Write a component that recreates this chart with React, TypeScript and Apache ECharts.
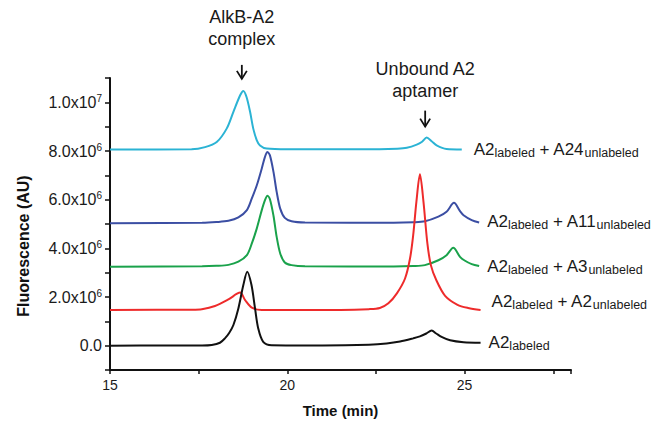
import React, { useEffect, useRef } from "react";
import * as echarts from "echarts";

// ---- Data (time in min, fluorescence in AU) ----
const traceNames = [
  "A2 labeled + A24 unlabeled",
  "A2 labeled + A11 unlabeled",
  "A2 labeled + A3 unlabeled",
  "A2 labeled + A2 unlabeled",
  "A2 labeled",
];

const traceColors = ["#2bb3d4", "#3b4ea3", "#1aa24b", "#ee2b2b", "#111111"];

const traceA24: [number, number][] = [
  [15, 8.06e6], [17.3, 8.07e6], [17.68, 8.16e6], [18.01, 8.37e6], [18.29, 8.92e6],
  [18.48, 9.61e6], [18.67, 10.29e6], [18.76, 10.47e6], [18.85, 10.22e6], [18.95, 9.61e6],
  [19.04, 8.92e6], [19.14, 8.44e6], [19.23, 8.23e6], [19.42, 8.1e6], [20.0, 8.07e6],
  [22.6, 8.07e6], [23.1, 8.09e6], [23.37, 8.13e6], [23.65, 8.26e6], [23.8, 8.38e6],
  [23.93, 8.55e6], [24.07, 8.4e6], [24.21, 8.23e6], [24.49, 8.08e6], [24.92, 8.06e6],
];

const traceA11: [number, number][] = [
  [15, 5.03e6], [17.6, 5.05e6], [18.0, 5.08e6], [18.34, 5.13e6], [18.62, 5.27e6],
  [18.86, 5.57e6], [19.0, 6.05e6], [19.14, 6.59e6], [19.28, 7.28e6], [19.37, 7.76e6],
  [19.44, 7.96e6], [19.51, 7.82e6], [19.61, 7.14e6], [19.7, 6.32e6], [19.8, 5.63e6],
  [19.93, 5.25e6], [20.12, 5.11e6], [20.5, 5.06e6], [23.0, 5.05e6], [23.56, 5.07e6],
  [23.88, 5.11e6], [24.26, 5.3e6], [24.49, 5.5e6], [24.7, 5.87e6], [24.87, 5.53e6],
  [24.97, 5.36e6], [25.2, 5.16e6], [25.41, 5.06e6],
];

const traceA3: [number, number][] = [
  [15, 3.24e6], [17.6, 3.26e6], [18.0, 3.28e6], [18.34, 3.32e6], [18.62, 3.45e6],
  [18.86, 3.72e6], [19.0, 4.2e6], [19.14, 4.82e6], [19.28, 5.57e6], [19.37, 5.98e6],
  [19.44, 6.16e6], [19.51, 6.02e6], [19.61, 5.34e6], [19.7, 4.47e6], [19.8, 3.79e6],
  [19.93, 3.42e6], [20.12, 3.31e6], [20.5, 3.26e6], [23.0, 3.25e6], [23.56, 3.27e6],
  [23.88, 3.31e6], [24.26, 3.51e6], [24.49, 3.72e6], [24.68, 4.02e6], [24.87, 3.65e6],
  [25.0, 3.5e6], [25.2, 3.35e6], [25.41, 3.27e6],
];

const traceA2: [number, number][] = [
  [15, 1.47e6], [17.3, 1.48e6], [17.59, 1.5e6], [17.96, 1.63e6], [18.34, 1.9e6],
  [18.67, 2.18e6], [18.81, 1.87e6], [19.0, 1.56e6], [19.28, 1.47e6], [21.5, 1.47e6],
  [22.3, 1.5e6], [22.61, 1.55e6], [22.85, 1.74e6], [23.09, 2.15e6], [23.32, 2.76e6],
  [23.46, 3.58e6], [23.55, 4.54e6], [23.64, 5.91e6], [23.74, 7.04e6], [23.84, 5.91e6],
  [23.95, 4.2e6], [24.05, 3.3e6], [24.2, 2.7e6], [24.45, 2.05e6], [24.8, 1.68e6],
  [25.1, 1.55e6], [25.45, 1.47e6],
];

const traceLabeledOnly: [number, number][] = [
  [15, 0], [16.5, 0.01e6], [17.6, 0.01e6], [17.87, 0.03e6], [18.1, 0.12e6],
  [18.24, 0.3e6], [18.36, 0.52e6], [18.48, 0.85e6], [18.62, 1.53e6], [18.76, 2.49e6],
  [18.87, 3.04e6], [18.99, 2.49e6], [19.09, 1.53e6], [19.18, 0.71e6], [19.32, 0.16e6],
  [19.56, 0.02e6], [21.0, 0.01e6], [22.3, 0.04e6], [22.8, 0.09e6], [23.18, 0.17e6],
  [23.55, 0.3e6], [23.74, 0.38e6], [23.92, 0.5e6], [24.07, 0.62e6], [24.2, 0.5e6],
  [24.35, 0.36e6], [24.59, 0.22e6], [24.97, 0.14e6], [25.45, 0.12e6],
];

const traces = [traceA24, traceA11, traceA3, traceA2, traceLabeledOnly];

// End-of-trace labels: [main text, subscript] pairs
const traceLabelParts: [string, string][][] = [
  [["A2", "labeled"], [" + A24", "unlabeled"]],
  [["A2", "labeled"], [" + A11", "unlabeled"]],
  [["A2", "labeled"], [" + A3", "unlabeled"]],
  [["A2", "labeled"], [" + A2", "unlabeled"]],
  [["A2", "labeled"]],
];
const traceLabelOffsets: [number, number][] = [[4, 0], [0, -1], [0, 0], [3, -8], [0, 0]];

// Axis ticks
const xLabelTicks = [15, 20, 25];
const yLabelTicks = [0, 2e6, 4e6, 6e6, 8e6, 1e7];
const yLabelMantissas = ["0.0", "2.0", "4.0", "6.0", "8.0", "1.0"];
const yLabelExponents = [null, 6, 6, 6, 6, 7];

// Peak annotations
const annotationTexts = ["AlkB-A2\ncomplex", "Unbound A2\naptamer"];
const annotationPeaks: [number, number][] = [[18.76, 10.47e6], [23.93, 8.55e6]];

const FONT = '"Liberation Sans", Arial, Helvetica, sans-serif';

export default function App() {
  const ref = useRef<HTMLDivElement>(null);

  useEffect(() => {
    if (!ref.current) return;
    const chart = echarts.init(ref.current, null, { renderer: "svg" });

    const series = traces.map((data, i) => ({
      name: traceNames[i],
      type: "line",
      data,
      showSymbol: false,
      symbol: "none",
      smooth: 0.3,
      lineStyle: { color: traceColors[i], width: 2 },
      itemStyle: { color: traceColors[i] },
      z: 2 + i,
      endLabel: {
        show: true,
        distance: 8,
        offset: traceLabelOffsets[i],
        formatter: () =>
          traceLabelParts[i].map(([big, sub]) => `{big|${big}}{sub|${sub}}`).join(""),
        rich: {
          big: { fontSize: 17, lineHeight: 20, fontFamily: FONT, color: "#1a1a1a" },
          sub: {
            fontSize: 12.5,
            lineHeight: 13,
            verticalAlign: "bottom",
            fontFamily: FONT,
            color: "#1a1a1a",
          },
        },
      },
    }));

    chart.setOption({
      animation: false,
      grid: { left: 110, top: 78, right: 86, bottom: 55, containLabel: false },
      xAxis: {
        type: "value",
        min: 15,
        max: 28,
        interval: 2.5,
        name: "Time (min)",
        nameLocation: "middle",
        nameGap: 33,
        nameTextStyle: { fontFamily: FONT, fontSize: 15, fontWeight: "bold", color: "#111" },
        axisLine: { show: true, onZero: false, lineStyle: { color: "#111", width: 2 } },
        axisTick: { show: true, inside: false, length: 4, lineStyle: { color: "#111", width: 1.5 } },
        axisLabel: {
          margin: 8,
          fontFamily: FONT,
          fontSize: 14,
          color: "#1a1a1a",
          formatter: (v: number) => (xLabelTicks.includes(v) ? String(v) : ""),
        },
        splitLine: { show: false },
      },
      yAxis: {
        type: "value",
        min: -1e6,
        max: 1.1e7,
        interval: 1e6,
        name: "Fluorescence (AU)",
        nameLocation: "middle",
        nameGap: 79,
        nameTextStyle: {
          fontFamily: FONT,
          fontSize: 16,
          fontWeight: "bold",
          color: "#111",
          padding: [0, 44, 0, 0],
        },
        axisLine: { show: true, onZero: false, lineStyle: { color: "#111", width: 2 } },
        axisTick: { show: true, inside: false, length: 5, lineStyle: { color: "#111", width: 1.5 } },
        axisLabel: {
          margin: 8,
          fontFamily: FONT,
          fontSize: 16,
          lineHeight: 18,
          color: "#1a1a1a",
          formatter: (v: number) => {
            const idx = yLabelTicks.findIndex((t) => Math.abs(t - v) < 1);
            if (idx < 0) return "";
            const exp = yLabelExponents[idx];
            return exp === null ? yLabelMantissas[idx] : `${yLabelMantissas[idx]}x10{sup|${exp}}`;
          },
          rich: {
            sup: {
              fontSize: 10,
              lineHeight: 12,
              verticalAlign: "top",
              fontFamily: FONT,
              color: "#1a1a1a",
            },
          },
        },
        splitLine: { show: false },
      },
      series,
    });

    // Annotations anchored to the peaks they point at
    const p0 = chart.convertToPixel({ gridIndex: 0 }, annotationPeaks[0]) as number[];
    const p1 = chart.convertToPixel({ gridIndex: 0 }, annotationPeaks[1]) as number[];
    const arrowSpecs = [
      { x: p0[0] - 1.5, tip: p0[1] - 12, top: p0[1] - 26, textY: p0[1] - 63 },
      { x: p1[0] - 1.5, tip: p1[1] - 11, top: p1[1] - 27, textY: p1[1] - 58 },
    ];
    const graphic: any[] = [];
    arrowSpecs.forEach((a, i) => {
      graphic.push({
        type: "text",
        x: a.x,
        y: a.textY,
        style: {
          text: annotationTexts[i],
          fontFamily: FONT,
          fontSize: 18,
          lineHeight: 22,
          fill: "#1a1a1a",
          align: "center",
          verticalAlign: "middle",
        },
      });
      graphic.push({
        type: "line",
        shape: { x1: a.x, y1: a.top, x2: a.x, y2: a.tip },
        style: { stroke: "#111", lineWidth: 1.8 },
      });
      graphic.push({
        type: "polyline",
        shape: { points: [[a.x - 5, a.tip - 8], [a.x, a.tip], [a.x + 5, a.tip - 8]] },
        style: { stroke: "#111", lineWidth: 1.8, fill: "none" },
      });
    });
    chart.setOption({ graphic });

    return () => chart.dispose();
  }, []);

  return (
    <div
      ref={ref}
      style={{ position: "fixed", left: 0, top: 0, width: 657, height: 425, background: "#fff" }}
    />
  );
}
